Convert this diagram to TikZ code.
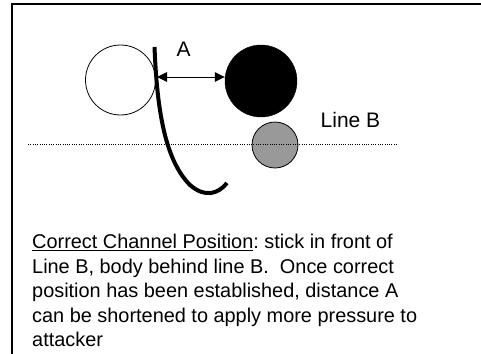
\documentclass[tikz,border=0pt]{standalone}
\usepackage{fontspec}
\setmainfont{Liberation Sans}
\usetikzlibrary{arrows.meta}
\definecolor{puckgray}{HTML}{999999}

\begin{document}
\frenchspacing
\begin{tikzpicture}[
  x=1pt,
  y=-1pt,
  every node/.style={font=\fontsize{21}{24}\selectfont, inner sep=0pt},
  >={Triangle[length=10pt,width=9.5pt]}
]
  \useasboundingbox (0,0) rectangle (481,353);
  \clip (0,0) rectangle (481,353);

  % ---- frame, cut off at the right and at the bottom -------------------
  \draw[line width=2pt] (12,360) -- (12,4.5) -- (490,4.5);

  % ---- players, puck and line B ----------------------------------------
  \node[circle, draw, line width=0.8pt, minimum size=70pt] (defender) at (120.5,80) {};
  \node[circle, draw, fill=black, minimum size=72pt] (attacker) at (261,81) {};
  \node[circle, draw, line width=0.8pt, fill=puckgray, minimum size=46pt] (puck) at (275,145) {};

  \coordinate (lineBstart) at (28,144);
  \coordinate (lineBend) at (398,144);
  \draw[line width=0.9pt, dash pattern=on 0.9pt off 1.4pt] (lineBstart) -- (lineBend);

  \node[anchor=base west] (labelB) at (320.5,127.7) {Line B};

  % ---- stick and distance A --------------------------------------------
  \draw[line width=4pt]
    (154.5,47) .. controls (157,110) and (165,160) .. (190,185)
    .. controls (205,198) and (218,194) .. (227,183);

  \coordinate (blade) at (157,77);
  \draw[<->, line width=1pt] (blade) -- (blade -| attacker.west);
  \node[anchor=base west] (labelA) at (176.5,56.5) {A};

  % ---- caption ---------------------------------------------------------
  \node[anchor=north west, align=left,
        font=\fontsize{19.9}{24.5}\selectfont] (caption) at (32,234)
    {\underline{Correct Channel Position}: stick in front of\\
     Line B, body behind line B.\ \ Once correct\\
     position has been established, distance A\\
     can be shortened to apply more pressure to\\
     attacker};
\end{tikzpicture}
\end{document}
